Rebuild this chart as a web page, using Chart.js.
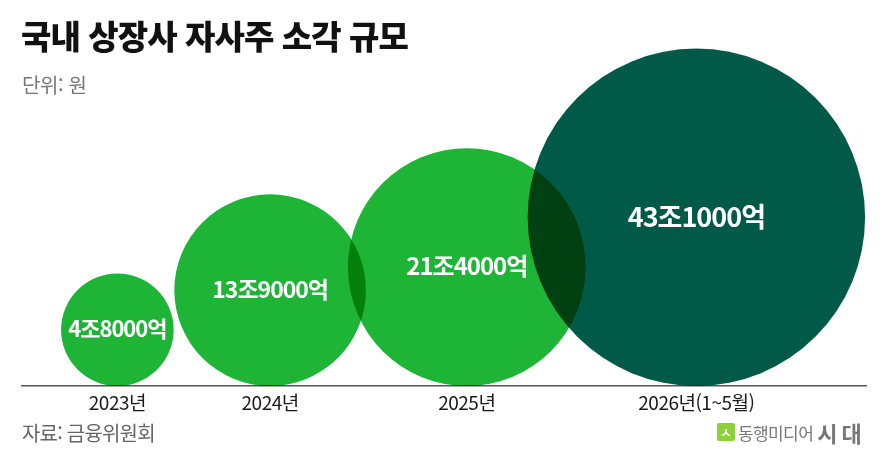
<!DOCTYPE html>
<html lang="ko">
<head>
<meta charset="utf-8">
<title>국내 상장사 자사주 소각 규모</title>
<script src="https://cdn.jsdelivr.net/npm/chart.js@4.4.1/dist/chart.umd.min.js"></script>
<style>
  html, body { margin: 0; padding: 0; background: #fff; }
  body { width: 890px; height: 461px; position: relative; overflow: hidden; font-family: "Noto Sans CJK KR", "Noto Sans", sans-serif; }
  #chart-1 { position: absolute; left: 0; top: 0; }
  .txt { position: absolute; line-height: 1; white-space: nowrap; }
  #title { left: 21px; top: 19px; font-size: 33px; font-weight: 900; color: #111; letter-spacing: -0.9px; }
  #unit { left: 22px; top: 75px; font-size: 20px; color: #777; letter-spacing: -0.4px; }
  #source { left: 22px; top: 423px; font-size: 20px; color: #666; letter-spacing: -0.8px; }
  #logo { left: 717px; top: 421px; color: #777; }
  #logo .mark { display: inline-block; width: 18px; height: 18px; background: #8cd13a; border-radius: 2px; color: #fff; font-size: 13px; font-weight: 700; text-align: center; line-height: 18px; vertical-align: middle; }
  #logo .name { font-size: 17px; letter-spacing: -0.6px; vertical-align: middle; margin-left: 3px; }
  #logo .brand { font-size: 22px; font-weight: 700; letter-spacing: 4px; vertical-align: middle; margin-left: 4px; }
</style>
</head>
<body>
<canvas id="chart-1" width="890" height="461"></canvas>
<div class="txt" id="title">국내 상장사 자사주 소각 규모</div>
<div class="txt" id="unit">단위: 원</div>
<div class="txt" id="source">자료: 금융위원회</div>
<div class="txt" id="logo"><span class="mark">ㅅ</span><span class="name">동행미디어</span><span class="brand">시대</span></div>
<script>
// 연도별 자사주 소각 규모 (단위: 조원)
const years = ["2023년", "2024년", "2025년", "2026년(1~5월)"];
const amounts = [4.8, 13.9, 21.4, 43.1];
const amountLabels = ["4조8000억", "13조9000억", "21조4000억", "43조1000억"];
// x축(0~100) 위 원의 중심 위치
const positions = [11.3, 29.4, 52.7, 79.9];

const bubbleColors = ["#1eb536", "#1eb536", "#1eb536", "#015a48"];
const labelSizes = [22, 23, 24, 27];
const radiusScale = 25.7; // 면적이 금액에 비례

const blendPlugin = {
  id: "blend",
  beforeDraw(chart) {
    chart.ctx.letterSpacing = "-0.5px";
  },
  beforeDatasetsDraw(chart) {
    chart.ctx.save();
    chart.ctx.globalCompositeOperation = "multiply";
  },
  afterDatasetsDraw(chart) {
    chart.ctx.restore();
    const ctx = chart.ctx;
    const meta = chart.getDatasetMeta(0);
    ctx.save();
    ctx.fillStyle = "#fff";
    ctx.textAlign = "center";
    ctx.textBaseline = "middle";
    meta.data.forEach((pt, i) => {
      ctx.font = "700 " + labelSizes[i] + "px 'Noto Sans CJK KR'";
      ctx.letterSpacing = "-1px";
      ctx.fillText(amountLabels[i], pt.x, pt.y - 1);
    });
    ctx.restore();
  }
};

const renderBubbleChart = () => {
  const ctx1 = document.getElementById("chart-1").getContext("2d");
  const myChart = new Chart(ctx1, {
    type: "bubble",
    data: {
      datasets: [
        {
          label: "자사주 소각 규모",
          data: amounts.map((v, i) => {
            const r = radiusScale * Math.sqrt(v);
            return { x: positions[i], y: r, r: r };
          }),
          backgroundColor: bubbleColors,
          hoverBackgroundColor: bubbleColors,
          borderWidth: 0,
          hoverBorderWidth: 0,
          clip: false,
        },
      ],
    },
    options: {
      responsive: false,
      animation: false,
      layout: { autoPadding: false, padding: { left: 22, right: 24, top: 40, bottom: 40 } },
      plugins: {
        legend: { display: false },
        tooltip: { enabled: false },
      },
      events: [],
      scales: {
        x: {
          type: "linear",
          min: 0,
          max: 100,
          grid: { display: false, drawTicks: false },
          border: { display: true, color: "#555", width: 1.5 },
          afterBuildTicks: (scale) => {
            scale.ticks = positions.map((v) => ({ value: v }));
          },
          ticks: {
            autoSkip: false,
            maxRotation: 0,
            padding: 5,
            color: "#1a1a1a",
            font: { family: "'Noto Sans CJK KR'", size: 19 },
            callback: (value, index) => years[index],
          },
        },
        y: {
          display: false,
          min: 0,
          max: 346,
        },
      },
    },
    plugins: [blendPlugin],
  });

  // 1 y단위 = 1px, 기준선 y=386 로 맞춤
  const area = myChart.chartArea;
  myChart.options.layout.padding.bottom += area.bottom - 386;
  myChart.update("none");
  myChart.options.scales.y.max = myChart.chartArea.bottom - myChart.chartArea.top;
  myChart.update("none");
};

renderBubbleChart();
</script>
</body>
</html>
